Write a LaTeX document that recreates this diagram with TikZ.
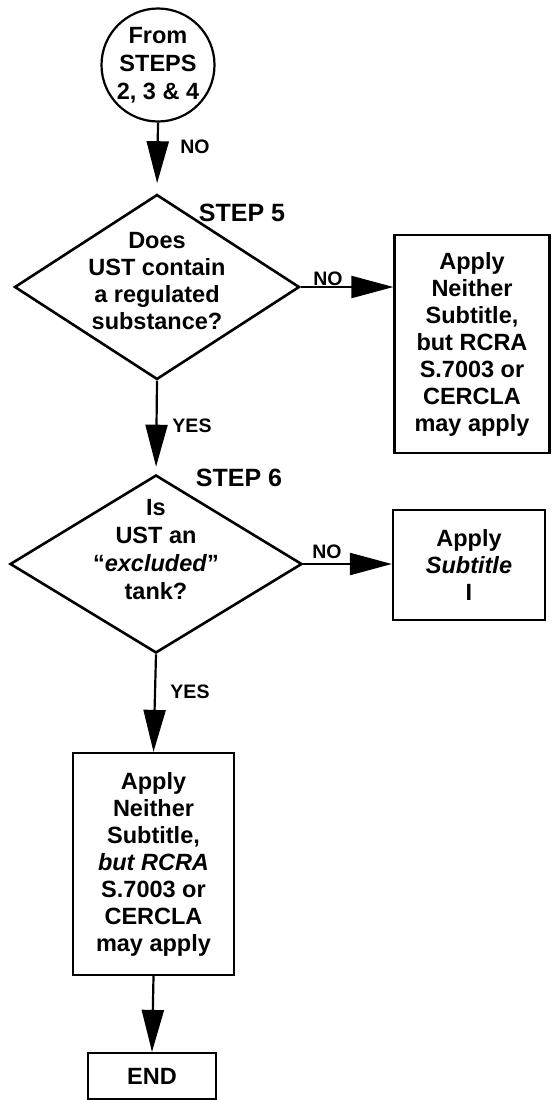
\documentclass[tikz,border=0pt]{standalone}
\usepackage{fontspec}
\setmainfont{Liberation Sans}
\usepackage{tikz}
\usetikzlibrary{shapes,arrows.meta,calc}

\begin{document}
\begin{tikzpicture}[x=1pt,y=-1pt,>={Triangle[length=42pt,width=22pt]},
  decision/.style={draw,diamond,line width=2.6pt,inner sep=0pt},
  action/.style={draw,rectangle,line width=2.2pt,inner sep=0pt,txt},
  txt/.style={align=center,font=\fontsize{23.5}{27}\selectfont\bfseries},
  lbl/.style={font=\fontsize{19.5}{22}\selectfont\bfseries,inner sep=0pt},
  steplbl/.style={font=\fontsize{25}{27}\selectfont\bfseries,inner sep=0pt},
  flow/.style={->,line width=2.2pt}]
\useasboundingbox (0,0) rectangle (552,1100);

\node[draw,circle,line width=2.2pt,inner sep=0pt,minimum size=113pt,align=center,
  font=\fontsize{23.5}{28}\selectfont\bfseries] (from) at (158,65) {From\\STEPS\\2, 3 \& 4};

\node[decision,minimum width=285pt,minimum height=185pt] (step5) at (157,287) {};
\node[txt] (step5txt) at (157,281) {Does\\UST contain\\a regulated\\substance?};
\node[steplbl] (step5lbl) at (242,213) {STEP 5};
\node[action,minimum width=155pt,minimum height=218pt] (neither1) at (472,344)
  {Apply\\Neither\\Subtitle,\\but RCRA\\S.7003 or\\CERCLA\\may apply};

\node[decision,minimum width=292pt,minimum height=178pt] (step6) at (156,564) {};
\node[txt,font=\fontsize{23.5}{28}\selectfont\bfseries] (step6txt) at (156,550)
  {Is\\UST an\\“\textit{excluded}”\\tank?};
\node[steplbl] (step6lbl) at (239,478) {STEP 6};
\node[action,minimum width=152pt,minimum height=110pt] (subtitle) at (469,565)
  {Apply\\\textit{Subtitle}\\I};

\node[action,minimum width=161pt,minimum height=222pt] (neither2) at (153.5,864)
  {Apply\\Neither\\Subtitle,\\\textit{but RCRA}\\S.7003 or\\CERCLA\\may apply};
\node[action,minimum width=128pt,minimum height=46pt] (end) at (152,1076) {END};

% connectors
\draw[flow,shorten >=10pt] (from.south) -- (step5.north);
\draw[flow] (step5.east) -- (neither1.west |- step5.east);
\draw[flow,shorten >=7pt] (step5.south) -- (step6.north);
\draw[flow] (step6.east) -- (subtitle.west |- step6.east);
\draw[flow] (step6.south) -- (neither2.north);
\draw[flow] (neither2.south) -- (end.north);

% answers
\node[lbl] (no0) at (195,147) {NO};
\node[lbl] (no5) at (328,279) {NO};
\node[lbl] (yes5) at (192,426) {YES};
\node[lbl] (no6) at (327,552) {NO};
\node[lbl] (yes6) at (190,692) {YES};
\end{tikzpicture}
\end{document}
